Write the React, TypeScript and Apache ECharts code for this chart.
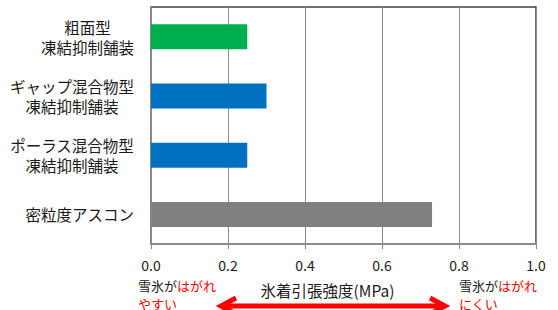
import React, { useEffect, useRef } from "react";
import * as echarts from "echarts";

const categories = [
  "粗面型\n凍結抑制舗装",
  "ギャップ混合物型\n凍結抑制舗装",
  "ポーラス混合物型\n凍結抑制舗装",
  "密粒度アスコン",
];
const values = [0.25, 0.3, 0.25, 0.73];
const barColors = ["#00B050", "#0070C0", "#0070C0", "#808080"];
const axisTitle = "氷着引張強度(MPa)";
const leftNote = ["雪氷が", "はがれ", "やすい"];
const rightNote = ["雪氷が", "はがれ", "にくい"];

const FONT = "'Noto Sans CJK JP', 'Noto Sans', sans-serif";
const CAT_FS = 15.5;

function noteGraphics(x: number, note: string[]) {
  const rich = {
    k: { fill: "#1a1a1a", fontSize: 13, fontFamily: FONT },
    r: { fill: "#FF0000", fontSize: 13, fontFamily: FONT },
  };
  return [
    {
      type: "text",
      x,
      y: 285,
      style: {
        text: `{k|${note[0]}}{r|${note[1]}}`,
        rich,
        fontSize: 13,
        fontFamily: FONT,
        verticalAlign: "middle",
        align: "left",
      },
    },
    {
      type: "text",
      x,
      y: 303,
      style: {
        text: note[2],
        fill: "#FF0000",
        fontSize: 13,
        fontFamily: FONT,
        verticalAlign: "middle",
        align: "left",
      },
    },
  ];
}

export default function App() {
  const ref = useRef<HTMLDivElement>(null);
  useEffect(() => {
    if (!ref.current) return;
    const chart = echarts.init(ref.current, null, { renderer: "svg" });
    const rich: Record<string, any> = {};
    for (let n = 1; n <= 10; n++) {
      rich["w" + n] = {
        width: n * CAT_FS,
        align: "center",
        fontSize: CAT_FS,
        lineHeight: 20,
        color: "#1a1a1a",
        fontFamily: FONT,
      };
    }
    chart.setOption({
      animation: false,
      textStyle: { fontFamily: FONT },
      grid: {
        left: 151,
        right: 22,
        top: 7,
        bottom: 66,
        show: true,
        borderColor: "#404040",
        borderWidth: 1.5,
        containLabel: false,
      },
      xAxis: {
        type: "value",
        min: 0,
        max: 1,
        interval: 0.2,
        name: axisTitle,
        nameLocation: "middle",
        nameGap: 38,
        nameTextStyle: {
          fontSize: 15.5,
          color: "#1a1a1a",
          fontFamily: FONT,
          padding: [0, 32, 0, 0],
        },
        axisLine: { show: true, lineStyle: { color: "#8c8c8c", width: 2 } },
        axisTick: { show: true, length: 5, lineStyle: { color: "#8c8c8c" } },
        splitLine: { show: true, lineStyle: { color: "#8c8c8c", width: 1 } },
        axisLabel: {
          fontSize: 14,
          color: "#1a1a1a",
          margin: 14,
          fontFamily: FONT,
          formatter: (v: number) => v.toFixed(1),
        },
      },
      yAxis: {
        type: "category",
        data: categories,
        inverse: true,
        axisLine: { show: true, lineStyle: { color: "#8c8c8c", width: 1.5 } },
        axisTick: { show: false },
        axisLabel: {
          margin: 17,
          formatter: (v: string) => {
            const lines = v.split("\n");
            const n = Math.max(...lines.map((l) => l.length));
            return lines.map((l) => `{w${n}|${l}}`).join("\n");
          },
          rich,
        },
      },
      series: [
        {
          type: "bar",
          barWidth: 25,
          data: values.map((v, i) => ({ value: v, itemStyle: { color: barColors[i] } })),
        },
      ],
      graphic: [
        ...noteGraphics(138, leftNote),
        ...noteGraphics(459, rightNote),
        {
          type: "line",
          shape: { x1: 223, y1: 306, x2: 443, y2: 306 },
          style: { stroke: "#FF0000", lineWidth: 5 },
        },
        {
          type: "polyline",
          shape: { points: [[236, 298], [221, 306], [236, 314]] },
          style: { stroke: "#FF0000", lineWidth: 5, fill: null, lineJoin: "miter" },
        },
        {
          type: "polyline",
          shape: { points: [[430, 298], [445, 306], [430, 314]] },
          style: { stroke: "#FF0000", lineWidth: 5, fill: null, lineJoin: "miter" },
        },
      ],
    });
    return () => chart.dispose();
  }, []);
  return <div ref={ref} style={{ width: 558, height: 310, position: "absolute", left: 0, top: 0 }} />;
}
